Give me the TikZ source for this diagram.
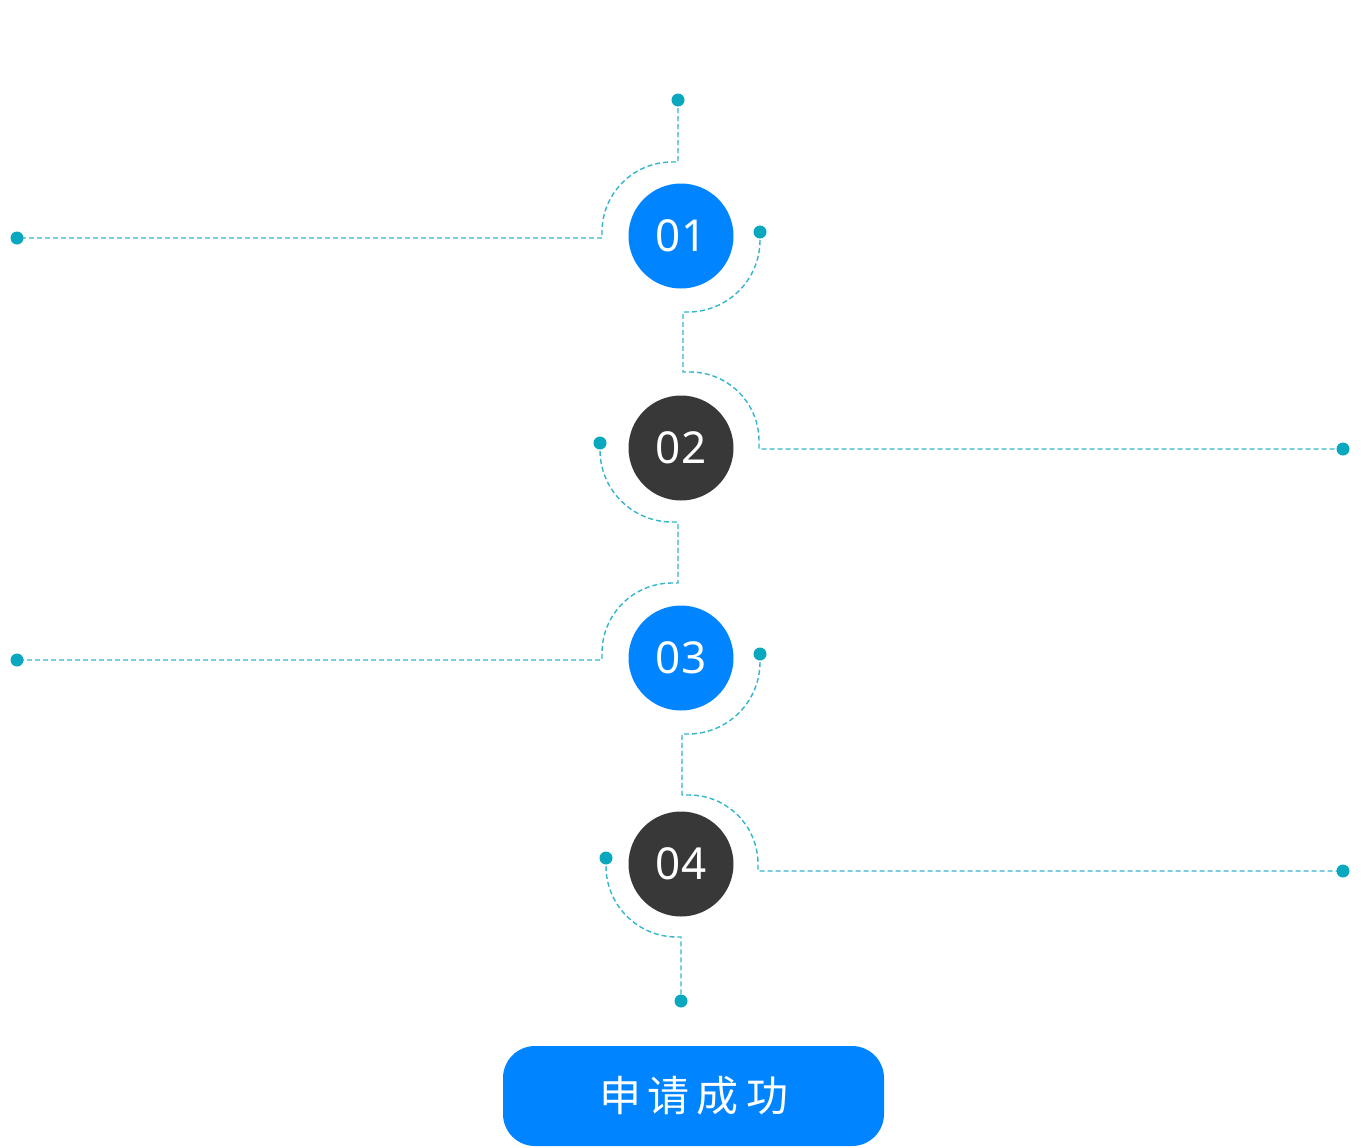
\documentclass[tikz,border=0pt]{standalone}
\usepackage{fontspec}
\setmainfont{Noto Sans}
\newfontfamily\cjk{Noto Sans CJK SC}
\definecolor{lineC}{HTML}{33B6CC}
\definecolor{dotC}{HTML}{0AA8BE}
\definecolor{blueC}{HTML}{0084FF}
\definecolor{darkC}{HTML}{383838}
\begin{document}
\begin{tikzpicture}[x=0.5pt,y=-0.5pt,
  dl/.style={draw=lineC, line width=0.7pt, dash pattern=on 2.5pt off 1.5pt},
  dotn/.style={circle, fill=dotC, minimum size=6.5pt, inner sep=0pt},
  stepc/.style={circle, minimum size=52.5pt, inner sep=0pt, text=white, font=\fontsize{22}{22}\selectfont},
  btnbox/.style={rectangle, rounded corners=16pt, fill=blueC, minimum width=190.5pt, minimum height=50pt, inner sep=0pt, text=white}]
\useasboundingbox (0,0) rectangle (1372,1147);
% free ends
\coordinate (t0) at (678,100);
\coordinate (l1) at (17,238);
\coordinate (r1) at (760,232);
\coordinate (l2) at (600,443);
\coordinate (r2) at (1343,449);
\coordinate (l3) at (17,660);
\coordinate (r3) at (760,654);
\coordinate (l4) at (606,858);
\coordinate (r4) at (1343,871);
\coordinate (b0) at (681,1001);
% dashed connectors
\path[dl] (t0) -- (678,162) -- (672,162) arc[start angle=-90,end angle=-180,radius=70] -- (602,238) -- (l1);
\path[dl] (r1) -- (760,240) arc[start angle=0,end angle=90,radius=72] -- (683,312) -- (683,372) -- (690,372) arc[start angle=-90,end angle=0,radius=69] -- (759,449) -- (r2);
\path[dl] (l2) -- (600,450) arc[start angle=180,end angle=90,radius=72] -- (678,522) -- (678,583) -- (672,583) arc[start angle=-90,end angle=-180,radius=70] -- (602,660) -- (l3);
\path[dl] (r3) -- (760,662) arc[start angle=0,end angle=90,radius=72] -- (682,734) -- (682,795) -- (689,795) arc[start angle=-90,end angle=0,radius=69] -- (758,871) -- (r4);
\path[dl] (l4) -- (606,866) arc[start angle=180,end angle=90,radius=71] -- (681,937) -- (b0);
% dots
\foreach \p in {t0,l1,r1,l2,r2,l3,r3,l4,r4,b0} \node[dotn] (d\p) at (\p) {};
% step circles
\node[stepc, fill=blueC] (s1) at (681,236) {01};
\node[stepc, fill=darkC] (s2) at (681,448) {02};
\node[stepc, fill=blueC] (s3) at (681,658) {03};
\node[stepc, fill=darkC] (s4) at (681,864) {04};
% button
\node[btnbox] (btn) at (693.5,1096) {\cjk\fontsize{21}{21}\selectfont 申\hspace{3.5pt}请\hspace{3.5pt}成\hspace{3.5pt}功};
\end{tikzpicture}
\end{document}
